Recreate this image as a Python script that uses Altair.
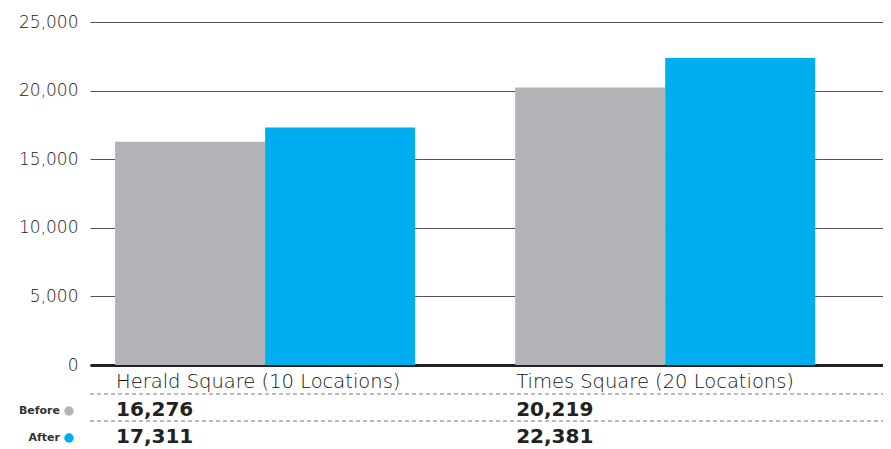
import altair as alt
import pandas as pd

categories = ["Herald Square (10 Locations)", "Times Square (20 Locations)"]
periods = ["Before", "After"]
before = [16276, 20219]
after = [17311, 22381]
y_ticks = [0, 5000, 10000, 15000, 20000, 25000]
colors = ["#b3b4b8", "#00aeef"]

rows = []
for c, b, a in zip(categories, before, after):
    rows.append({"category": c, "period": "Before", "value": b})
    rows.append({"category": c, "period": "After", "value": a})
df = pd.DataFrame(rows)
cat_df = pd.DataFrame({"category": categories, "before": before, "after": after})
per_df = pd.DataFrame({"period": periods, "row": [0, 1]})

W, H = 793, 343

xscale = alt.Scale(domain=categories, paddingInner=0.25, paddingOuter=0.116, align=0.27)
color_scale = alt.Scale(domain=periods, range=colors)

bars = alt.Chart(df).mark_bar().encode(
    x=alt.X("category:N", scale=xscale, sort=categories,
            axis=alt.Axis(labels=False, ticks=False, title=None, domainColor="#222", domainWidth=3)),
    xOffset=alt.XOffset("period:N", sort=periods),
    y=alt.Y("value:Q", scale=alt.Scale(domain=[0, 25000]),
            axis=alt.Axis(values=y_ticks, format=",.0f", title=None, domain=False, ticks=False,
                          gridColor="#555", gridWidth=1, gridOpacity=1,
                          labelPadding=12, labelFont="DejaVu Sans", labelFontWeight=200,
                          labelFontSize=17, labelColor="#222")),
    color=alt.Color("period:N", scale=color_scale, legend=None),
)

cat_text = alt.Chart(cat_df).mark_text(
    align="left", baseline="middle", font="DejaVu Sans", fontWeight=200, fontSize=19.5, color="#111", dx=1
).encode(
    x=alt.X("category:N", bandPosition=0, sort=categories),
    y=alt.value(360),
    text="category:N",
)

num_before = alt.Chart(cat_df).mark_text(
    align="left", baseline="middle", font="DejaVu Sans", fontWeight="bold", fontSize=20, color="#222", dx=1
).encode(
    x=alt.X("category:N", bandPosition=0, sort=categories),
    y=alt.value(388),
    text=alt.Text("before:Q", format=",.0f"),
)

num_after = alt.Chart(cat_df).mark_text(
    align="left", baseline="middle", font="DejaVu Sans", fontWeight="bold", fontSize=20, color="#222", dx=1
).encode(
    x=alt.X("category:N", bandPosition=0, sort=categories),
    y=alt.value(415),
    text=alt.Text("after:Q", format=",.0f"),
)

dash1 = alt.Chart(pd.DataFrame({"k": [0]})).mark_rule(
    color="#777", strokeDash=[4, 3], strokeWidth=1
).encode(x=alt.value(0), x2=alt.value(W), y=alt.value(372))
dash2 = alt.Chart(pd.DataFrame({"k": [0]})).mark_rule(
    color="#777", strokeDash=[4, 3], strokeWidth=1
).encode(x=alt.value(0), x2=alt.value(W), y=alt.value(399))

row_scale = alt.Scale(domain=[0, 1], range=[389, 416])
per_label = alt.Chart(per_df).mark_text(
    align="right", baseline="middle", font="DejaVu Sans", fontWeight="bold", fontSize=11, color="#333"
).encode(
    x=alt.value(-30),
    y=alt.Y("row:Q", scale=row_scale, axis=None),
    text="period:N",
)
per_dot = alt.Chart(per_df).mark_circle(size=90, opacity=1).encode(
    x=alt.value(-21),
    y=alt.Y("row:Q", scale=row_scale, axis=None),
    color=alt.Color("period:N", scale=color_scale, legend=None),
)

chart = alt.layer(bars, cat_text, num_before, num_after, dash1, dash2, per_label, per_dot).resolve_scale(
    y="independent"
).properties(
    width=W, height=H,
    autosize=alt.AutoSizeParams(type="none"),
    padding={"left": 82, "top": 14, "right": 0, "bottom": 84},
).configure_view(stroke=None)

chart.save("out.html", embed_options={"renderer": "svg", "actions": False})
